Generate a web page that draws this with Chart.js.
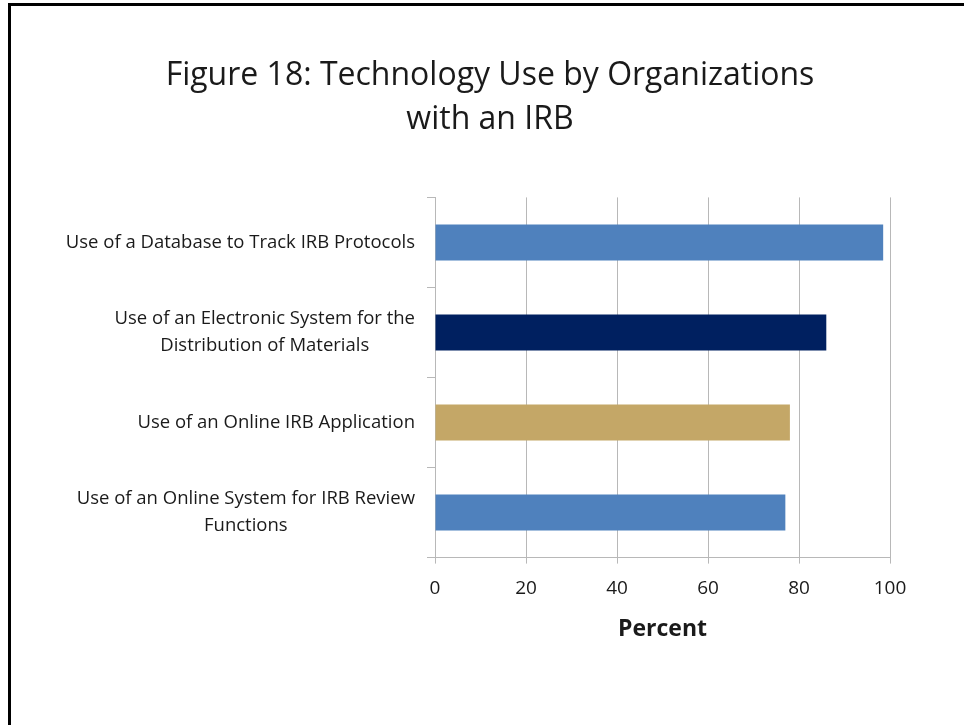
<!DOCTYPE html>
<html>
<head>
<meta charset="utf-8">
<script src="https://cdn.jsdelivr.net/npm/chart.js@4/dist/chart.umd.min.js"></script>
<style>
  html, body { margin: 0; padding: 0; background: #fff; }
  #wrap { position: relative; width: 964px; height: 725px; overflow: hidden; }
  #frame {
    position: absolute; left: 8px; top: 3px; width: 1000px; height: 800px;
    border-top: 3px solid #000; border-left: 3px solid #000;
  }
  canvas { position: absolute; left: 0; top: 0; }
</style>
</head>
<body>
<div id="wrap">
  <div id="frame"></div>
  <canvas id="chart" width="964" height="725"></canvas>
</div>
<script>
const categories = [
  ["Use of a Database to Track IRB Protocols"],
  ["Use of an Electronic System for the", "Distribution of Materials"],
  ["Use of an Online IRB Application"],
  ["Use of an Online System for IRB Review", "Functions"]
];
const percentValues = [98.5, 86, 78, 77];
const barColors = ["#4f81bd", "#002060", "#c4a767", "#4f81bd"];
const xTicks = [0, 20, 40, 60, 80, 100];

const textColor = "#1a1a1a";
const gridColor = "#b8b8b8";
const fontFamily = "'Open Sans', sans-serif";

// draw category labels right-aligned as a block, lines centred inside it
const centredLabels = {
  id: "centredLabels",
  afterDraw(chart) {
    const scale = chart.scales.y;
    const ctx = chart.ctx;
    ctx.save();
    ctx.font = "18.5px " + fontFamily;
    ctx.fillStyle = textColor;
    ctx.textAlign = "center";
    ctx.textBaseline = "middle";
    const lineH = 27;
    const right = scale.right - 20;
    categories.forEach((lines, i) => {
      const y = scale.getPixelForTick(i);
      const w = Math.max(...lines.map((l) => ctx.measureText(l).width));
      const top = y - ((lines.length - 1) * lineH) / 2;
      lines.forEach((l, j) => {
        ctx.fillText(l, right - w / 2, top + j * lineH);
      });
    });
    ctx.restore();
  },
};

const ctx = document.getElementById("chart").getContext("2d");
new Chart(ctx, {
  type: "bar",
  data: {
    labels: categories,
    datasets: [
      {
        data: percentValues,
        backgroundColor: barColors,
        borderWidth: 0,
        barPercentage: 0.4,
        categoryPercentage: 1,
      },
    ],
  },
  options: {
    indexAxis: "y",
    responsive: false,
    animation: false,
    layout: { padding: { left: 90, right: 74, top: 0, bottom: 78 } },
    plugins: {
      legend: { display: false },
      tooltip: { enabled: false },
      title: {
        display: true,
        text: ["Figure 18: Technology Use by Organizations", "with an IRB"],
        color: textColor,
        font: { family: fontFamily, size: 32, weight: "normal", lineHeight: 1.4 },
        padding: { top: 53, bottom: 54.8 },
      },
    },
    scales: {
      x: {
        min: 0,
        max: 100,
        afterBuildTicks(scale) {
          scale.ticks = xTicks.map((v) => ({ value: v }));
        },
        grid: { color: gridColor, lineWidth: 1, tickLength: 6 },
        border: { color: gridColor },
        ticks: {
          color: textColor,
          padding: 14,
          font: { family: fontFamily, size: 19 },
        },
        title: {
          display: true,
          text: "Percent",
          color: textColor,
          font: { family: fontFamily, size: 23, weight: "bold" },
          padding: { top: 1, bottom: 4 },
        },
      },
      y: {
        afterFit(scale) {
          scale.width = 345;
        },
        grid: {
          offset: true,
          drawOnChartArea: false,
          color: gridColor,
          tickLength: 8,
        },
        border: { color: gridColor },
        ticks: { display: false },
      },
    },
  },
  plugins: [centredLabels],
});
</script>
</body>
</html>
